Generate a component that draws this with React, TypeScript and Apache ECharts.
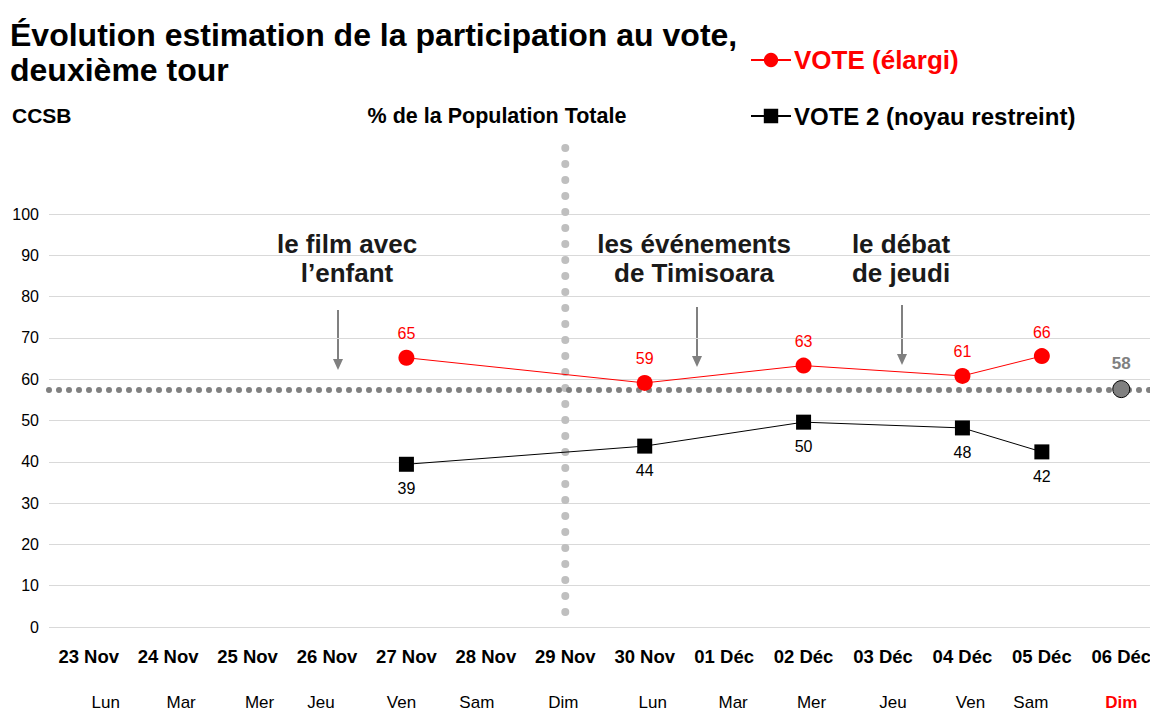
import React, { useEffect, useRef } from "react";
import * as echarts from "echarts";

const categories = ["23 Nov", "24 Nov", "25 Nov", "26 Nov", "27 Nov", "28 Nov", "29 Nov", "30 Nov", "01 Déc", "02 Déc", "03 Déc", "04 Déc", "05 Déc", "06 Déc"];
const dayNames = ["Lun", "Mar", "Mer", "Jeu", "Ven", "Sam", "Dim", "Lun", "Mar", "Mer", "Jeu", "Ven", "Sam", "Dim"];
const voteElargi = [null, null, null, null, 65.2, null, null, 59.1, null, 63.3, null, 60.8, 65.6, null];
const vote2 = [null, null, null, null, 39.4, null, null, 43.8, null, 49.6, null, 48.2, 42.4, null];
const forecast = [null, null, null, null, null, null, null, null, null, null, null, null, null, 57.6];
const referenceLevel = 57.4;
const yTicks = { min: 0, max: 100, interval: 10 };
// horizontal nudge (px) of each weekday label, as laid out in the original
const dayLabelShift = [17, 13, 12, -6, -5, -9, -2, 8, 9, 8, 10, 8, -11, 0];
const annotations = [
  { text: "le film avec\nl’enfant", x: 347, y: 258, arrowX: 338, arrowTop: 310, arrowTip: 370 },
  { text: "les événements\nde Timisoara", x: 694, y: 258, arrowX: 697, arrowTop: 307, arrowTip: 367 },
  { text: "le débat\nde jeudi", x: 901, y: 258, arrowX: 902, arrowTop: 305, arrowTip: 365 },
];

const FONT = "'Liberation Sans', Arial, sans-serif";

export default function App() {
  const ref = useRef<HTMLDivElement>(null);
  useEffect(() => {
    document.body.style.margin = "0";
    const chart = echarts.init(ref.current!, null, { renderer: "svg" });
    const annGraphics: any[] = [];
    annotations.forEach((a) => {
      annGraphics.push({
        type: "text",
        x: a.x,
        y: a.y,
        style: { text: a.text, font: `bold 26px ${FONT}`, fill: "#1a1a1a", align: "center", verticalAlign: "middle", lineHeight: 29 },
      });
      annGraphics.push({
        type: "line",
        shape: { x1: a.arrowX, y1: a.arrowTop, x2: a.arrowX, y2: a.arrowTip - 10 },
        style: { stroke: "#808080", lineWidth: 2 },
      });
      annGraphics.push({
        type: "polygon",
        shape: { points: [[a.arrowX - 5, a.arrowTip - 11], [a.arrowX + 5, a.arrowTip - 11], [a.arrowX, a.arrowTip]] },
        style: { fill: "#808080" },
      });
    });

    const dayRich: any = {};
    dayLabelShift.forEach((d, i) => {
      dayRich["d" + i] = {
        fontFamily: FONT,
        fontSize: 17,
        color: i === dayNames.length - 1 ? "#ff0000" : "#000",
        fontWeight: i === dayNames.length - 1 ? "bold" : "normal",
        padding: d >= 0 ? [0, 0, 0, 2 * d] : [0, -2 * d, 0, 0],
      };
    });

    const option: any = {
      animation: false,
      backgroundColor: "#fff",
      textStyle: { fontFamily: FONT },
      title: [
        {
          text: "Évolution estimation de la participation au vote,\ndeuxième tour",
          left: 10,
          top: 17,
          padding: 0,
          textStyle: { fontFamily: FONT, fontWeight: "bold", fontSize: 32, color: "#000", lineHeight: 35 },
        },
        { text: "CCSB", left: 12, top: 105, padding: 0, textStyle: { fontFamily: FONT, fontWeight: "bold", fontSize: 21, color: "#000" } },
        { text: "% de la Population Totale", left: 497, textAlign: "center", top: 105, padding: 0, textStyle: { fontFamily: FONT, fontWeight: "bold", fontSize: 21.5, color: "#000" } },
      ],
      legend: {
        orient: "vertical",
        left: 750,
        top: 47,
        padding: 0,
        itemGap: 31,
        itemWidth: 40,
        itemHeight: 18,
        data: [
          { name: "VOTE (élargi)", textStyle: { color: "#ff0000", fontSize: 26 } },
          { name: "VOTE 2 (noyau restreint)", textStyle: { color: "#000", fontSize: 24 } },
        ],
        textStyle: { fontFamily: FONT, fontWeight: "bold", fontSize: 25, padding: [0, 0, 0, -2] },
      },
      grid: { left: 49, width: 1112, top: 214, height: 413, outerBoundsMode: "none" },
      xAxis: [
        {
          type: "category",
          data: categories,
          axisLine: { show: false },
          axisTick: { show: false },
          axisLabel: {
            interval: 0,
            margin: 20,
            fontFamily: FONT,
            fontWeight: "bold",
            fontSize: 18.5,
            color: "#000",
          },
        },
        {
          type: "category",
          position: "bottom",
          offset: 47,
          data: dayNames.map((d, i) => d + "\u200b".repeat(i)),
          axisLine: { show: false },
          axisTick: { show: false },
          axisLabel: {
            interval: 0,
            margin: 20,
            fontFamily: FONT,
            fontSize: 17,
            formatter: (v: string, i: number) => `{d${i}|${dayNames[i]}}`,
            rich: dayRich,
          },
        },
      ],
      yAxis: {
        type: "value",
        min: yTicks.min,
        max: yTicks.max,
        interval: yTicks.interval,
        axisLine: { show: false },
        axisTick: { show: false },
        axisLabel: { fontFamily: FONT, fontSize: 16, color: "#000", margin: 10 },
        splitLine: { lineStyle: { color: "#d9d9d9", width: 1 } },
      },
      series: [
        {
          name: "VOTE (élargi)",
          type: "line",
          data: voteElargi,
          connectNulls: true,
          symbol: "circle",
          symbolSize: 16,
          itemStyle: { color: "#ff0000" },
          lineStyle: { color: "#ff0000", width: 1 },
          label: { show: true, position: "top", distance: 8, color: "#ff0000", fontFamily: FONT, fontSize: 16, formatter: (p: any) => Math.round(p.value) },
          z: 5,
        },
        {
          name: "VOTE 2 (noyau restreint)",
          type: "line",
          data: vote2,
          connectNulls: true,
          symbol: "rect",
          symbolSize: 15,
          itemStyle: { color: "#000" },
          lineStyle: { color: "#000", width: 1 },
          label: { show: true, position: "bottom", distance: 9, color: "#000", fontFamily: FONT, fontSize: 16, formatter: (p: any) => Math.round(p.value) },
          z: 5,
        },
        {
          name: "forecast",
          type: "line",
          data: forecast,
          symbol: "circle",
          symbolSize: 17,
          itemStyle: { color: "#808080", borderColor: "#000", borderWidth: 1 },
          label: { show: true, position: "top", distance: 8, color: "#808080", fontWeight: "bold", fontFamily: FONT, fontSize: 17, formatter: (p: any) => Math.round(p.value) },
          markLine: {
            silent: true,
            symbol: "none",
            label: { show: false },
            lineStyle: { color: "#808080", width: 6, type: [0, 10], cap: "round" },
            data: [{ yAxis: referenceLevel }],
          },
          z: 6,
        },
      ],
      graphic: annGraphics,
    };
    chart.setOption(option);

    const vx = chart.convertToPixel({ xAxisIndex: 0 }, "29 Nov") as number;
    const vBottom = chart.convertToPixel({ yAxisIndex: 0 }, 0) as number;
    chart.setOption({
      graphic: [
        ...annGraphics,
        {
          type: "line",
          z: 1,
          shape: { x1: vx, y1: 148, x2: vx, y2: vBottom },
          style: { stroke: "#bfbfbf", lineWidth: 8, lineDash: [0, 16], lineCap: "round" },
        },
      ],
    });

    return () => chart.dispose();
  }, []);
  return <div ref={ref} style={{ width: 1150, height: 713 }} />;
}
